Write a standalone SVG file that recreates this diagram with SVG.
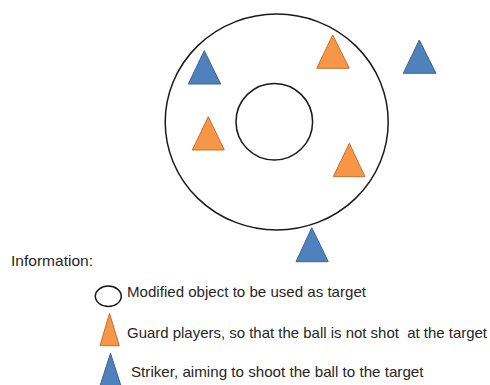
<svg xmlns="http://www.w3.org/2000/svg" width="490" height="385" viewBox="0 0 490 385">
<style>
.ring{fill:none;stroke:#1a1a1a;stroke-width:1.5}
.guard{fill:#F79646;stroke:#C0722F;stroke-width:1}
.striker{fill:#4F81BD;stroke:#3A6496;stroke-width:1}
.t{font-family:"Liberation Sans",Arial,sans-serif;font-size:14.5px;fill:#262626}
</style>
<rect width="490" height="385" fill="#fff"/>
<g id="outer-ring"><ellipse class="ring" cx="276.7" cy="122" rx="111.5" ry="108"/></g>
<g id="target"><circle class="ring" cx="274.3" cy="121.7" r="38.3"/></g>
<g id="striker-1"><polygon class="striker" points="204.3,50.7 220.7,84 188.3,84"/></g>
<g id="guard-1"><polygon class="guard" points="332.7,35 349.3,68.3 316.7,68.3"/></g>
<g id="striker-2"><polygon class="striker" points="419.3,40 436,73.3 403.3,73.3"/></g>
<g id="guard-2"><polygon class="guard" points="208.3,116.7 224.3,150 192.3,150"/></g>
<g id="guard-3"><polygon class="guard" points="349.3,143.3 365,176.7 333.3,176.7"/></g>
<g id="striker-3"><polygon class="striker" points="311.8,227.7 328.3,261.7 296,261.7"/></g>
<g id="connectors"></g>
<g id="legend">
<text class="t" x="11" y="266" textLength="82" lengthAdjust="spacingAndGlyphs">Information:</text>
<ellipse class="ring" cx="108.3" cy="296.3" rx="13" ry="10.2"/>
<text class="t" x="127" y="296.5" textLength="239" lengthAdjust="spacingAndGlyphs">Modified object to be used as target</text>
<polygon class="guard" points="109.5,313.3 119.3,345.7 100,345.7"/>
<text class="t" x="127" y="338.3" textLength="360" lengthAdjust="spacingAndGlyphs" xml:space="preserve">Guard players, so that the ball is not shot  at the target</text>
<polygon class="striker" points="110.5,353.3 123,392 98,392"/>
<text class="t" x="131" y="377" textLength="292.5" lengthAdjust="spacingAndGlyphs">Striker, aiming to shoot the ball to the target</text>
</g>
</svg>
